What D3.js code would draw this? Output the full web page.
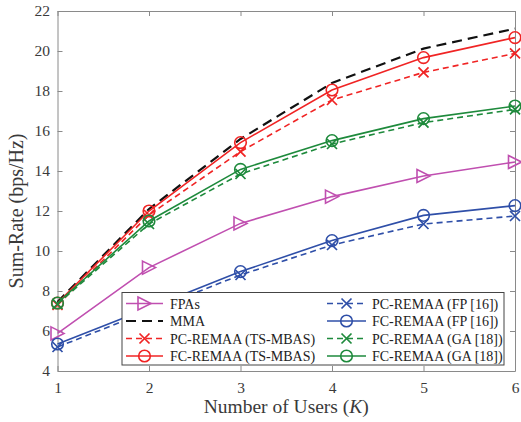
<!DOCTYPE html>
<html>
<head>
<meta charset="utf-8">
<script src="https://cdn.jsdelivr.net/npm/d3@7"></script>
<style>
  html, body { margin: 0; padding: 0; background: #fff; }
  svg { display: block; }
</style>
</head>
<body>
<svg id="chart" width="521" height="422"></svg>
<script>
// Number of users K
const users = [1, 2, 3, 4, 5, 6];

// Sum-rate (bps/Hz) per scheme
const fpas       = [5.88, 9.17, 11.38, 12.72, 13.75, 14.45];
const mma        = [7.45, 12.1, 15.6, 18.4, 20.12, 21.12];
const pcTsMbas   = [7.3, 11.8, 14.97, 17.55, 18.93, 19.88];
const fcTsMbas   = [7.4, 12.0, 15.42, 18.05, 19.67, 20.67];
const pcFp       = [5.2, 7.0, 8.8, 10.3, 11.35, 11.75];
const fcFp       = [5.35, 7.15, 8.97, 10.52, 11.78, 12.27];
const pcGa       = [7.35, 11.35, 13.85, 15.35, 16.42, 17.08];
const fcGa       = [7.4, 11.5, 14.08, 15.52, 16.62, 17.25];

const xTicks = [1, 2, 3, 4, 5, 6];
const yTicks = [4, 6, 8, 10, 12, 14, 16, 18, 20, 22];

const series = [
  { name: "FPAs",                 values: fpas,     color: "#c04fb0", dash: null,   width: 1.6, marker: "tri" },
  { name: "MMA",                  values: mma,      color: "#111111", dash: "10,6", width: 2.2, marker: null },
  { name: "PC-REMAA (TS-MBAS)",   values: pcTsMbas, color: "#f02424", dash: "6,4",  width: 1.6, marker: "x" },
  { name: "FC-REMAA (TS-MBAS)",   values: fcTsMbas, color: "#f02424", dash: null,   width: 1.6, marker: "o" },
  { name: "PC-REMAA (FP [16])",   values: pcFp,     color: "#2f4fa8", dash: "6,4",  width: 1.6, marker: "x" },
  { name: "FC-REMAA (FP [16])",   values: fcFp,     color: "#2f4fa8", dash: null,   width: 1.6, marker: "o" },
  { name: "PC-REMAA (GA [18])",   values: pcGa,     color: "#1e8a3c", dash: "6,4",  width: 1.6, marker: "x" },
  { name: "FC-REMAA (GA [18])",   values: fcGa,     color: "#1e8a3c", dash: null,   width: 1.6, marker: "o" }
];

const FONT = "'Liberation Serif', 'Times New Roman', serif";
const svg = d3.select("#chart");
const margin = { left: 57.5, right: 6, top: 11, bottom: 51 };
const W = 521, H = 422;
const x = d3.scaleLinear().domain([1, 6]).range([margin.left, W - margin.right]);
const y = d3.scaleLinear().domain([4, 22]).range([H - margin.bottom, margin.top]);

const frameColor = "#8a8a8a";
const textColor = "#3a3a3a";

// axes with inward ticks on all four sides
const tickLen = 5;
const axB = svg.append("g").attr("transform", `translate(0,${y(4)})`)
  .call(d3.axisBottom(x).tickValues(xTicks).tickFormat(d3.format("d")).tickSizeInner(-tickLen).tickSizeOuter(0).tickPadding(11.3));
const axT = svg.append("g").attr("transform", `translate(0,${y(22)})`)
  .call(d3.axisTop(x).tickValues(xTicks).tickFormat("").tickSizeInner(-tickLen).tickSizeOuter(0));
const axL = svg.append("g").attr("transform", `translate(${x(1)},0)`)
  .call(d3.axisLeft(y).tickValues(yTicks).tickFormat(d3.format("d")).tickSizeInner(-tickLen).tickSizeOuter(0).tickPadding(7.5));
const axR = svg.append("g").attr("transform", `translate(${x(6)},0)`)
  .call(d3.axisRight(y).tickValues(yTicks).tickFormat("").tickSizeInner(-tickLen).tickSizeOuter(0));

[axB, axT, axL, axR].forEach(g => {
  g.selectAll("path.domain").attr("stroke", frameColor).attr("stroke-width", 1);
  g.selectAll(".tick line").attr("stroke", frameColor).attr("stroke-width", 1);
  g.selectAll(".tick text").attr("fill", textColor)
    .style("font-family", FONT).style("font-size", "15.5px");
});

// axis titles
svg.append("text")
  .attr("x", (x(1) + x(6)) / 2).attr("y", 413)
  .attr("text-anchor", "middle").attr("fill", textColor)
  .style("font-family", FONT).style("font-size", "19.5px")
  .html('Number of Users (<tspan font-style="italic">K</tspan>)');
svg.append("text")
  .attr("transform", "translate(23,211) rotate(-90)")
  .attr("text-anchor", "middle").attr("fill", textColor)
  .style("font-family", FONT).style("font-size", "20px")
  .text("Sum-Rate (bps/Hz)");

function drawMarker(g, m, cx, cy, color) {
  if (m === "o") {
    g.append("circle").attr("cx", cx).attr("cy", cy).attr("r", 5.8)
      .attr("fill", "none").attr("stroke", color).attr("stroke-width", 1.6);
  } else if (m === "x") {
    const s = 5;
    g.append("path").attr("d", `M${cx - s},${cy - s}L${cx + s},${cy + s}M${cx - s},${cy + s}L${cx + s},${cy - s}`)
      .attr("stroke", color).attr("stroke-width", 1.7).attr("fill", "none");
  } else if (m === "tri") {
    const s = 6.5;
    g.append("path").attr("d", `M${cx - s},${cy - s}L${cx + s},${cy}L${cx - s},${cy + s}Z`)
      .attr("stroke", color).attr("stroke-width", 1.6).attr("fill", "none");
  }
}

// lines and markers
const line = d3.line().x((d, i) => x(users[i])).y(d => y(d));
const plot = svg.append("g");
series.forEach(s => {
  plot.append("path").datum(s.values).attr("d", line)
    .attr("fill", "none").attr("stroke", s.color).attr("stroke-width", s.width)
    .attr("stroke-dasharray", s.dash);
  if (s.marker) {
    s.values.forEach((v, i) => drawMarker(plot, s.marker, x(users[i]), y(v), s.color));
  }
});

// legend
const lg = svg.append("g");
lg.append("rect").attr("x", 122).attr("y", 292.5).attr("width", 382).attr("height", 72.5)
  .attr("fill", "#fff").attr("stroke", "#444").attr("stroke-width", 1);
const cols = [{ x0: 126, x1: 163, tx: 170 }, { x0: 327, x1: 366, tx: 372 }];
const rowY = [303.5, 321, 338.5, 356];
const order = [
  [0, 0, 0], [1, 0, 1], [2, 0, 2], [3, 0, 3],
  [4, 1, 0], [5, 1, 1], [6, 1, 2], [7, 1, 3]
];
order.forEach(([si, c, r]) => {
  const s = series[si];
  const col = cols[c];
  const yy = rowY[r];
  lg.append("line").attr("x1", col.x0).attr("x2", col.x1).attr("y1", yy).attr("y2", yy)
    .attr("stroke", s.color).attr("stroke-width", s.width).attr("stroke-dasharray", s.dash);
  if (s.marker) drawMarker(lg, s.marker, (col.x0 + col.x1) / 2, yy, s.color);
  lg.append("text").attr("x", col.tx).attr("y", yy + 5).attr("fill", "#222")
    .style("font-family", FONT).style("font-size", "14px")
    .text(s.name);
});
</script>
</body>
</html>
